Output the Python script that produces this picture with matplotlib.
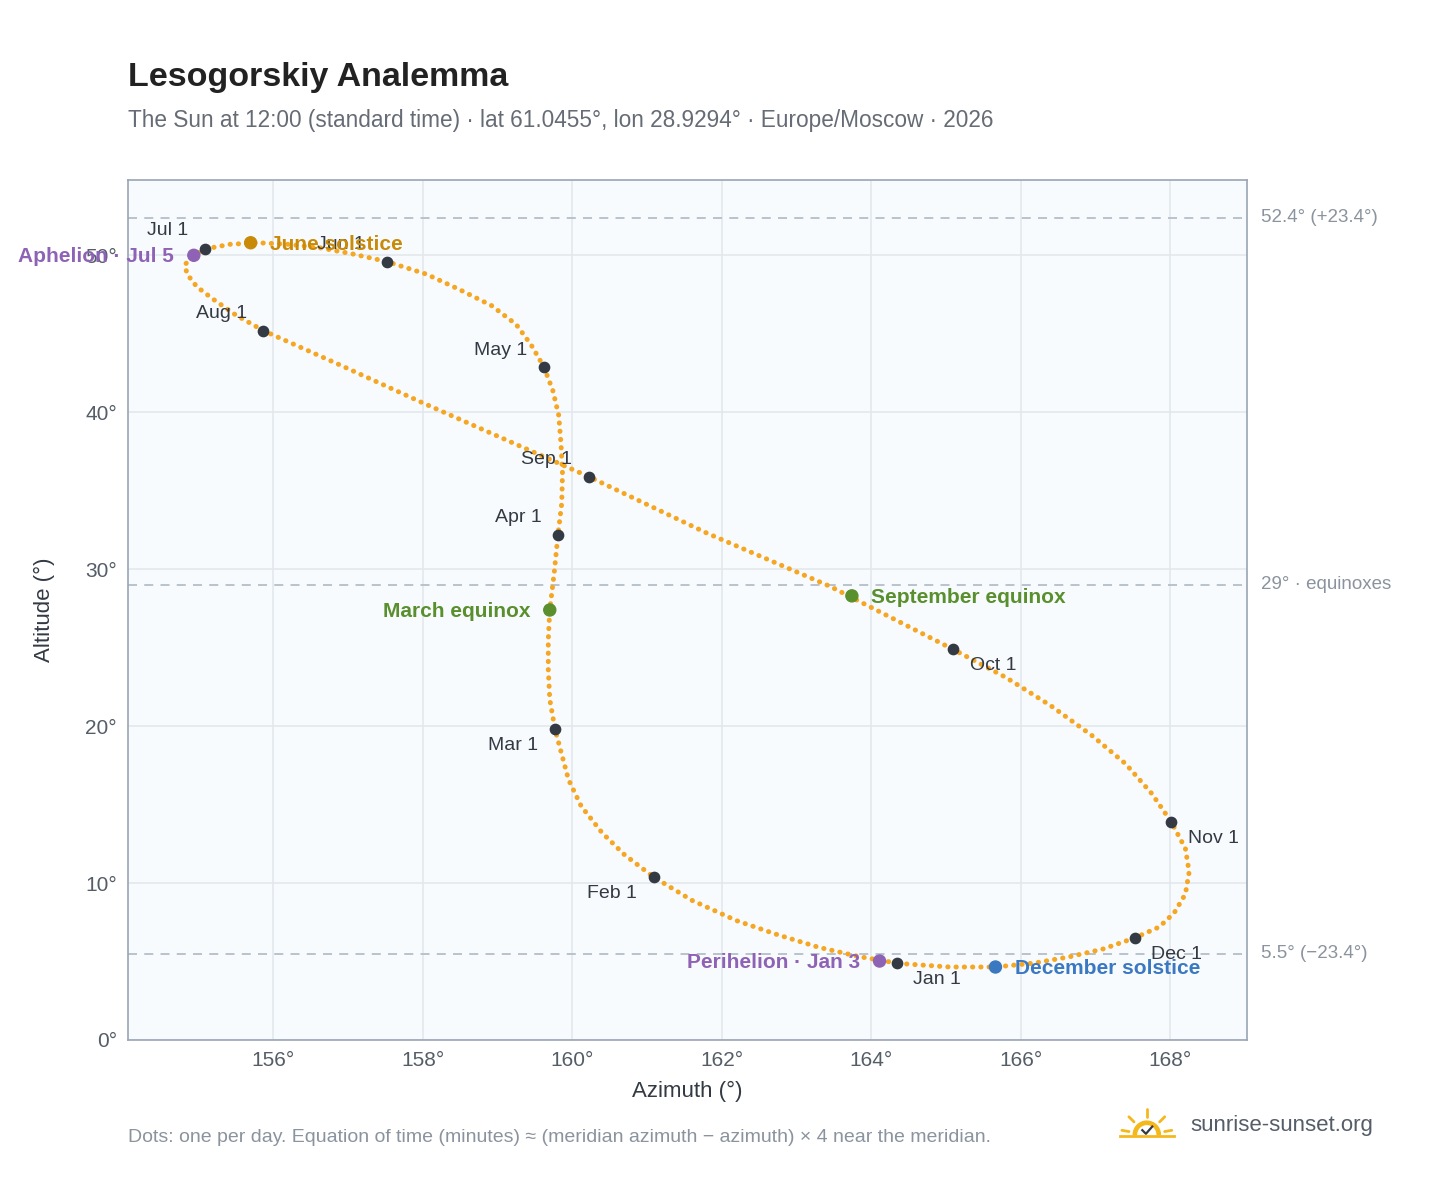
import numpy as np
import matplotlib
matplotlib.use("Agg")
import matplotlib.pyplot as plt
from matplotlib.patches import Wedge

plt.rcParams["font.family"] = ["Liberation Sans", "DejaVu Sans"]

# ---------------------------------------------------------------------------
# Data (azimuth deg, altitude deg), every ~5-10 days
# ---------------------------------------------------------------------------
path_az = [164.34, 163.85, 163.3, 162.75, 162.2, 161.6, 161.09, 160.7, 160.4, 160.12,
           159.95, 159.77, 159.70, 159.68, 159.68, 159.70, 159.76, 159.81, 159.86, 159.87,
           159.85, 159.82, 159.74, 159.62, 159.45, 159.25, 158.92, 158.5, 158.05,
           157.52, 157.05, 156.6, 156.2, 155.8, 155.42, 155.09, 154.94, 154.82, 154.85,
           154.98, 155.2, 155.5, 155.87, 156.9, 158.0, 160.22, 161.8, 163.45,
           165.09, 165.8, 166.4, 166.95, 167.4, 167.75, 168.01, 168.2, 168.25, 168.2,
           168.05, 167.85, 167.52, 167.1, 166.65, 166.18, 165.66, 165.05, 164.45, 164.34]
path_alt = [4.9, 5.3, 5.9, 6.7, 7.6, 8.9, 10.38, 11.8, 13.2, 14.9,
            16.6, 19.8, 21.7, 23.6, 25.5, 27.4, 29.8, 32.2, 34.2, 36.1,
            38.0, 39.8, 41.4, 42.9, 44.3, 45.6, 46.8, 47.8, 48.8,
            49.6, 50.1, 50.5, 50.7, 50.8, 50.7, 50.4, 50.0, 49.4, 48.8,
            48.0, 47.2, 46.2, 45.2, 43.0, 40.6, 35.9, 32.3, 28.9,
            24.9, 23.1, 21.3, 19.4, 17.6, 15.7, 13.9, 12.2, 10.7, 9.3,
            8.1, 7.2, 6.5, 5.8, 5.3, 4.9, 4.65, 4.65, 4.85, 4.9]

month_labels = ["Jan 1", "Feb 1", "Mar 1", "Apr 1", "May 1", "Jun 1",
                "Jul 1", "Aug 1", "Sep 1", "Oct 1", "Nov 1", "Dec 1"]
month_az = [164.34, 161.09, 159.77, 159.81, 159.62, 157.52,
            155.09, 155.87, 160.22, 165.09, 168.01, 167.52]
month_alt = [4.9, 10.38, 19.8, 32.2, 42.9, 49.6,
             50.4, 45.2, 35.9, 24.9, 13.9, 6.5]

event_labels = ["June solstice", "Aphelion · Jul 5", "March equinox",
                "September equinox", "Perihelion · Jan 3", "December solstice"]
event_az = [155.70, 154.94, 159.70, 163.74, 164.11, 165.66]
event_alt = [50.8, 50.0, 27.4, 28.3, 5.03, 4.65]
event_colors = ["#c98a0a", "#8e63b5", "#5a8f2e", "#5a8f2e", "#8e63b5", "#3b78c2"]
event_side = ["right", "left", "left", "right", "left", "right"]

ref_alt = [52.4, 29.0, 5.5]
ref_labels = ["52.4° (+23.4°)", "29° · equinoxes", "5.5° (−23.4°)"]

# ---------------------------------------------------------------------------
fig = plt.figure(figsize=(14.48, 11.88), dpi=100)
ax = fig.add_axes([0.0884, 0.1246, 0.7726, 0.7239])
ax.set_facecolor("#f8fbfd")
ax.set_xlim(154.06, 169.02)
ax.set_ylim(0, 54.8)
ax.set_xticks(range(156, 169, 2))
ax.set_xticklabels([f"{v}°" for v in range(156, 169, 2)])
ax.set_yticks(range(0, 51, 10))
ax.set_yticklabels([f"{v}°" for v in range(0, 51, 10)])
ax.grid(color="#e3e8ee", linewidth=1.2)
ax.set_axisbelow(True)
for s in ax.spines.values():
    s.set_color("#9aa5b4")
    s.set_linewidth(1.2)
ax.tick_params(colors="#555d68", labelsize=15, length=0, pad=8)
ax.set_xlabel("Azimuth (°)", fontsize=16, color="#333a44", labelpad=8)
ax.set_ylabel("Altitude (°)", fontsize=16, color="#333a44", labelpad=22)

for a, lab in zip(ref_alt, ref_labels):
    ax.axhline(a, color="#b4bfca", linestyle=(0, (5, 4)), linewidth=1.3, zorder=1)
    ax.annotate(lab, xy=(1, a), xycoords=("axes fraction", "data"),
                xytext=(10, 0), textcoords="offset points", va="center",
                fontsize=13.5, color="#8a939e", annotation_clip=False)

ax.plot(path_az, path_alt, color="#f5a623", linewidth=3.6,
        linestyle=(0, (0.05, 1.6)), dash_capstyle="round", zorder=2)

offsets = {"Jan 1": (12, -12, "left"), "Feb 1": (-12, -12, "right"),
           "Mar 1": (-12, -12, "right"), "Apr 1": (-12, 12, "right"),
           "May 1": (-12, 12, "right"), "Jun 1": (-50, 12, "left"),
           "Jul 1": (-12, 13, "right"), "Aug 1": (-12, 12, "right"),
           "Sep 1": (-12, 12, "right"), "Oct 1": (12, -12, "left"),
           "Nov 1": (12, -12, "left"), "Dec 1": (12, -12, "left")}
ax.scatter(month_az, month_alt, s=55, color="#333a44", zorder=4)
for lab, x, y in zip(month_labels, month_az, month_alt):
    dx, dy, ha = offsets[lab]
    ax.annotate(lab, (x, y), xytext=(dx, dy), textcoords="offset points",
                ha=ha, va="center", fontsize=14, color="#333a44", zorder=5)

ax.scatter(event_az, event_alt, s=75, color=event_colors, zorder=5)
for lab, x, y, c, side in zip(event_labels, event_az, event_alt, event_colors, event_side):
    dx = 14 if side == "right" else -14
    ax.annotate(lab, (x, y), xytext=(dx, -1), textcoords="offset points",
                ha="left" if side == "right" else "right", va="center",
                fontsize=15, fontweight="bold", color=c, zorder=6,
                annotation_clip=False)

fig.text(0.0884, 0.928, "Lesogorskiy Analemma", fontsize=24.5, fontweight="bold",
         color="#222222")
fig.text(0.0884, 0.893, "The Sun at 12:00 (standard time) · lat 61.0455°, lon 28.9294° · "
         "Europe/Moscow · 2026", fontsize=16.3, color="#666c75")
fig.text(0.0884, 0.039, "Dots: one per day. Equation of time (minutes) ≈ (meridian azimuth − "
         "azimuth) × 4 near the meridian.", fontsize=14, color="#8a939e")
fig.text(0.822, 0.053, "sunrise-sunset.org", fontsize=16, color="#555d68", va="center")

# small sun logo
lax = fig.add_axes([0.772, 0.038, 0.04, 0.032])
lax.set_xlim(-1.6, 1.6)
lax.set_ylim(-0.4, 1.6)
lax.set_aspect("equal")
lax.axis("off")
lax.add_patch(Wedge((0, 0), 0.75, 0, 180, width=0.18, color="#f5b81c"))
for ang in np.deg2rad([10, 45, 90, 135, 170]):
    lax.plot([1.0 * np.cos(ang), 1.4 * np.cos(ang)], [1.0 * np.sin(ang), 1.4 * np.sin(ang)],
             color="#f5b81c", linewidth=2, solid_capstyle="round")
lax.plot([-1.5, 1.5], [-0.05, -0.05], color="#f5b81c", linewidth=2)
lax.plot([-0.25, -0.05, 0.3], [0.25, 0.05, 0.45], color="#333a44", linewidth=1.6)

fig.savefig("out.png", dpi=100)
